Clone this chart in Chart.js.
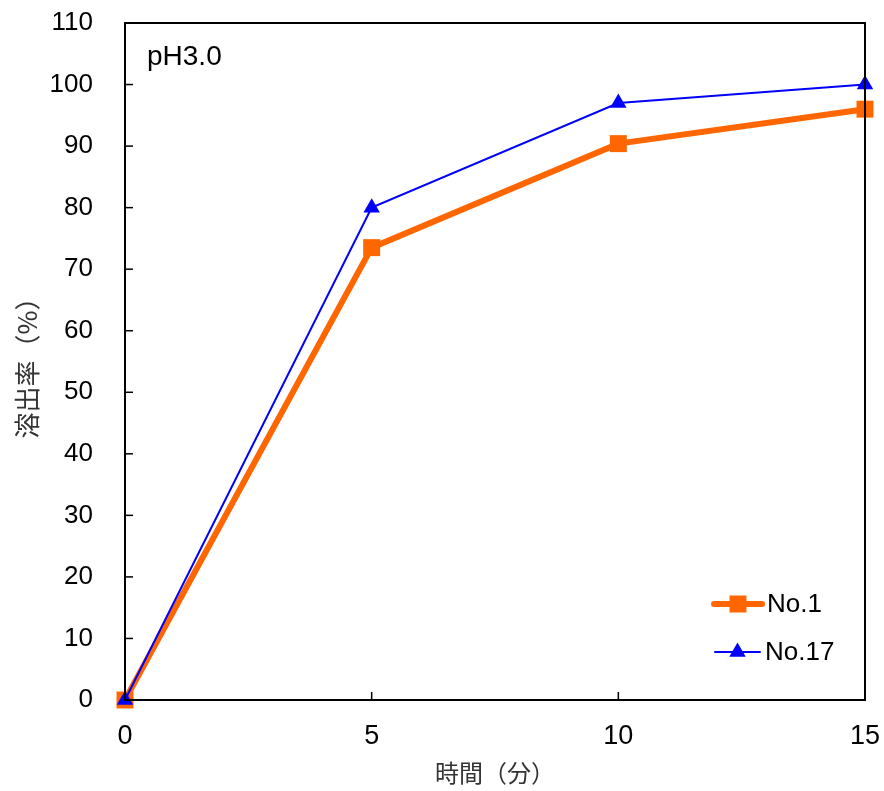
<!DOCTYPE html>
<html><head><meta charset="utf-8">
<script src="https://cdn.jsdelivr.net/npm/chart.js@4"></script>
<style>html,body{margin:0;padding:0;background:#fff}#wrap{width:884px;height:791px}</style>
</head><body><div id="wrap"><canvas id="c" width="884" height="791"></canvas></div>
<script>
const times = [0, 5, 10, 15];
const no1 = [0, 73.5, 90.4, 96];
const no17 = [0, 80, 97, 100];
const seriesNames = ['No.1', 'No.17'];
const xTicks = [0, 5, 10, 15];
const panelTitle = 'pH3.0';
const xTitle = '時間（分）';
const yTitle = '溶出率（%）';

const ORANGE = '#FF6600', BLUE = '#0000FF';
const cjk = '"Noto Sans CJK JP", sans-serif';
const latin = '"Liberation Sans", Arial, sans-serif';

const extras = {
  id: 'extras',
  afterDatasetsDraw(chart) {
    const {ctx, chartArea: a, scales: {x, y}} = chart;
    ctx.save();
    ctx.strokeStyle = '#000';
    ctx.lineWidth = 2;
    ctx.strokeRect(a.left, a.top, a.right - a.left, a.bottom - a.top);
    ctx.lineWidth = 1.5;
    y.ticks.forEach(t => {
      const py = y.getPixelForValue(t.value);
      ctx.beginPath(); ctx.moveTo(a.left, py); ctx.lineTo(a.left + 8, py); ctx.stroke();
    });
    x.ticks.forEach(t => {
      const px = x.getPixelForValue(t.value);
      ctx.beginPath(); ctx.moveTo(px, a.bottom); ctx.lineTo(px, a.bottom - 8); ctx.stroke();
    });
    ctx.fillStyle = '#000';
    ctx.font = '28px ' + latin;
    ctx.textBaseline = 'middle';
    ctx.textAlign = 'left';
    ctx.fillText(panelTitle, a.left + 22, a.top + 34);
    const items = [
      {name: seriesNames[0], color: ORANGE, lw: 6, style: 'rect', r: 12, y: 604, x0: 714, x1: 762},
      {name: seriesNames[1], color: BLUE, lw: 2, style: 'triangle', r: 9.5, y: 652, x0: 715, x1: 760}
    ];
    items.forEach(it => {
      ctx.strokeStyle = it.color; ctx.lineWidth = it.lw; ctx.lineCap = 'round';
      ctx.beginPath(); ctx.moveTo(it.x0, it.y); ctx.lineTo(it.x1, it.y); ctx.stroke();
      ctx.lineCap = 'butt';
      ctx.fillStyle = it.color;
      ctx.lineWidth = 0;
      Chart.helpers.drawPoint(ctx, {pointStyle: it.style, radius: it.r, borderWidth: 0}, (it.x0 + it.x1) / 2, it.y);
      ctx.fillStyle = '#000';
      ctx.font = '26px ' + latin;
      ctx.textAlign = 'left';
      ctx.textBaseline = 'middle';
      ctx.fillText(it.name, it.x1 + 5, it.y + 1);
    });
    ctx.restore();
  }
};

new Chart(document.getElementById('c'), {
  type: 'line',
  data: {
    datasets: [
      {label: seriesNames[1], data: times.map((t, i) => ({x: t, y: no17[i]})), borderColor: BLUE, backgroundColor: BLUE,
       borderWidth: 2, pointStyle: 'triangle', pointRadius: 9.5, pointBorderWidth: 0, tension: 0, order: 1},
      {label: seriesNames[0], data: times.map((t, i) => ({x: t, y: no1[i]})), borderColor: ORANGE, backgroundColor: ORANGE,
       borderWidth: 6, pointStyle: 'rect', pointRadius: 12, pointBorderWidth: 0, tension: 0, order: 2}
    ]
  },
  options: {
    responsive: false,
    animation: false,
    clip: false,
    layout: {padding: {top: 23, right: 19, left: 0, bottom: 0}},
    plugins: {legend: {display: false}, tooltip: {enabled: false}},
    scales: {
      x: {
        type: 'linear', min: 0, max: 15,
        afterBuildTicks: s => { s.ticks = xTicks.map(v => ({value: v})); },
        afterFit: s => { s.height = 91; s.paddingLeft = 0; s.paddingRight = 0; },
        grid: {display: false, drawTicks: false},
        border: {display: false},
        ticks: {color: '#000', font: {family: latin, size: 27}, padding: 20, maxRotation: 0},
        title: {display: true, text: xTitle, color: '#333', font: {family: cjk, size: 24}, padding: {top: 4, bottom: 4}}
      },
      y: {
        min: 0, max: 110,
        ticks: {stepSize: 10, color: '#000', font: {family: latin, size: 26}, padding: 32},
        afterFit: s => { s.width = 125; s.paddingTop = 0; s.paddingBottom = 0; },
        grid: {display: false, drawTicks: false},
        border: {display: false},
        title: {display: true, text: yTitle, color: '#333', font: {family: cjk, size: 26}, padding: {top: 12}}
      }
    }
  },
  plugins: [extras]
});
</script></body></html>
